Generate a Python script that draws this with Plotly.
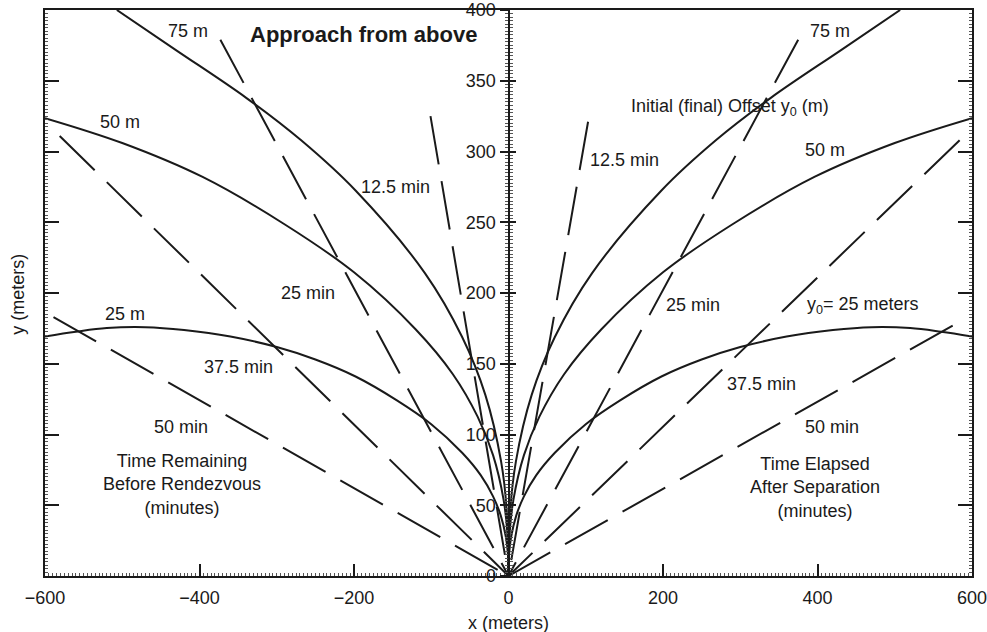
import plotly.graph_objects as go

# ---------------- data ----------------
# Solid curves: initial (final) offset y0 = 25, 50, 75 m (right half, x >= 0)
c25_x = [0, 0.7, 3.2, 10, 20, 36, 60, 100, 145, 198, 250, 300, 360, 420, 470, 520, 560, 600]
c25_y = [0, 15, 27, 42.7, 56.3, 71.3, 87.1, 107.3, 124.3, 141, 153, 161.8, 169.2, 173.8, 175.8, 175.2, 172.6, 169.3]

c50_x = [0, 1.4, 6.4, 20, 40, 72, 120, 200, 290, 396, 500, 600]
c50_y = [0, 30, 54, 85.4, 112.6, 142.6, 174.2, 214.6, 248.6, 282, 306, 323.6]

c75_x = [0, 2.1, 9.6, 30, 60, 108, 198, 268, 340, 430, 507]
c75_y = [0, 45, 81, 128, 168.9, 213.9, 272.4, 307.7, 338.1, 371.5, 400]

# Dashed isochrones (minutes): outer end points, each line runs to the origin
iso_minutes = ["12.5", "25", "37.5", "50"]
iso_right_x = [103, 375, 584, 575]
iso_right_y = [321, 379, 308, 177]
iso_left_x = [-101, -373, -581, -589]
iso_left_y = [325, 379, 311, 183]
origin_x, origin_y = 0, 0

x_ticks = [-600, -400, -200, 0, 200, 400, 600]
y_ticks = [0, 50, 100, 150, 200, 250, 300, 350, 400]

FONT = "Liberation Sans, Arial, Helvetica, sans-serif"
INK = "#1a1a1a"
LBL = 18

fig = go.Figure()

solid = dict(color=INK, width=2, shape="spline", smoothing=1.0)
for cx, cy in [(c25_x, c25_y), (c50_x, c50_y), (c75_x, c75_y)]:
    # right half (time elapsed after separation)
    fig.add_trace(go.Scatter(x=cx, y=cy, mode="lines", line=solid, yaxis="y",
                             hoverinfo="skip"))
    # left half (time remaining before rendezvous) - mirror image
    fig.add_trace(go.Scatter(x=[-v for v in cx], y=cy, mode="lines", line=solid,
                             yaxis="y3", hoverinfo="skip"))

dashed = dict(color=INK, width=2, dash="49px,17px")
for xr, yr, xl, yl in zip(iso_right_x, iso_right_y, iso_left_x, iso_left_y):
    fig.add_trace(go.Scatter(x=[xr, origin_x], y=[yr, origin_y], mode="lines",
                             line=dashed, yaxis="y2", hoverinfo="skip"))
    fig.add_trace(go.Scatter(x=[xl, origin_x], y=[yl, origin_y], mode="lines",
                             line=dashed, yaxis="y2", hoverinfo="skip"))

# ---------------- labels ----------------
labels = [
    ("75 m", -415, 385), ("75 m", 416, 385),
    ("50 m", -503, 321), ("50 m", 410, 301),
    ("25 m", -496, 185.5),
    ("Initial (final) Offset y<sub>0</sub> (m)", 287, 331),
    ("12.5 min", -146, 274.6), ("12.5 min", 150, 294),
    ("25 min", -259.5, 200), ("25 min", 239, 191.5),
    ("37.5 min", -349, 148), ("37.5 min", 328, 136),
    ("y<sub>0</sub>= 25 meters", 459, 191.5),
    ("50 min", -424, 105.5), ("50 min", 419, 105.5),
    ("Time Remaining<br>Before Rendezvous<br>(minutes)", -423, 65),
    ("Time Elapsed<br>After Separation<br>(minutes)", 397, 62.4),
]
annotations = []
for txt, ax_, ay_ in labels:
    annotations.append(dict(text=txt, x=ax_, y=ay_, xref="x", yref="y",
                            showarrow=False, xanchor="center", yanchor="middle",
                            font=dict(family=FONT, size=LBL, color=INK)))
annotations.append(dict(text="<b>Approach from above</b>", x=-188, y=383,
                        xref="x", yref="y", showarrow=False,
                        font=dict(family=FONT, size=22, color=INK)))
annotations.append(dict(text="x (meters)", x=0.5, y=-0.083, xref="paper", yref="paper",
                        showarrow=False, yanchor="middle",
                        font=dict(family=FONT, size=LBL, color=INK)))
annotations.append(dict(text="y (meters)", x=-0.029, y=0.497, xref="paper", yref="paper",
                        showarrow=False, textangle=-90, xanchor="center", yanchor="middle",
                        font=dict(family=FONT, size=LBL, color=INK)))

minor_x = dict(ticks="inside", ticklen=3, dtick=5, tickwidth=1, tickcolor="#555")
minor_y = dict(ticks="inside", ticklen=3, dtick=2.5, tickwidth=1, tickcolor="#555")

fig.update_layout(
    width=987, height=632,
    margin=dict(l=45, r=15, t=10, b=56),
    paper_bgcolor="white", plot_bgcolor="white",
    showlegend=False,
    font=dict(family=FONT, size=LBL, color=INK),
    annotations=annotations,
    xaxis=dict(range=[-600, 600], tickvals=x_ticks, ticks="inside", ticklen=12,
               tickwidth=1.5, tickcolor=INK, showline=True, linewidth=2,
               linecolor=INK, mirror=True, showgrid=False, zeroline=False,
               automargin=False, ticklabeloverflow="allow",
               tickfont=dict(size=LBL), ticklabelstandoff=4, minor=minor_x),
    yaxis=dict(range=[0, 400], tickvals=y_ticks, ticks="inside", ticklen=14,
               tickwidth=1.5, tickcolor=INK, showticklabels=False, showline=True,
               linewidth=2, linecolor=INK, mirror="ticks", showgrid=False,
               zeroline=False, automargin=False, minor=minor_y),
    yaxis2=dict(range=[0, 400], overlaying="y", anchor="free", position=0.5,
                side="left", tickvals=y_ticks, ticks="outside", ticklen=8,
                tickwidth=1.5, tickcolor=INK, showline=True, linewidth=2,
                linecolor=INK, showgrid=False, zeroline=False, automargin=False,
                ticklabeloverflow="allow",
                tickfont=dict(size=LBL),
                minor=dict(ticks="outside", ticklen=3, dtick=2.5, tickwidth=1,
                           tickcolor="#555")),
    yaxis3=dict(range=[0, 400], overlaying="y", anchor="free", position=0.5,
                side="left", tickvals=y_ticks, ticks="inside", ticklen=6,
                tickwidth=1.5, tickcolor=INK, showticklabels=False, showline=False,
                showgrid=False, zeroline=False, automargin=False,
                minor=dict(ticks="inside", ticklen=3, dtick=2.5, tickwidth=1,
                           tickcolor="#555")),
)

# remove the browser's default 8px page margin so the 987x632 figure fills the window
fig.write_html("out.html",
               config={"displayModeBar": False},
               post_script="document.body.style.margin='0';"
                           "document.body.style.overflow='hidden';")
